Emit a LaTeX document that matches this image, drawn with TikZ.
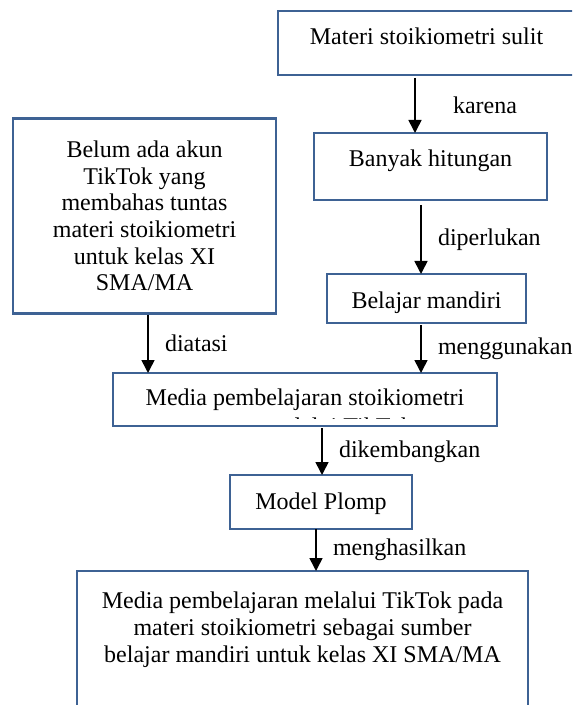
\documentclass[tikz,border=0pt]{standalone}
\usepackage{fontspec}
\setmainfont{Liberation Serif}
\usetikzlibrary{arrows.meta}
\definecolor{boxColor}{RGB}{62,98,148}
\begin{document}
\begin{tikzpicture}[x=0.5pt,y=-0.5pt,
  box/.style={draw=boxColor,line width=1.25pt,inner sep=0pt,outer sep=0pt,font=\fontsize{12}{13.35}\selectfont},
  txt/.style={inner sep=0pt,outer sep=0pt,align=center,font=\fontsize{12}{13.35}\selectfont},
  lbl/.style={inner sep=0pt,outer sep=0pt,right=8.5pt,font=\fontsize{12}{13.35}\selectfont},
  arr/.style={line width=0.8pt,-{Triangle[length=6.5pt,width=6.5pt]}}]
\clip (0,0) rectangle (572,705);

\node[box,minimum width=148.5pt,minimum height=32pt,text height=8pt,text depth=6pt] (sulit) at (426.5,43) {Materi stoikiometri sulit};
\node[box,minimum width=116.5pt,minimum height=33.5pt,text height=8pt,text depth=7.5pt] (banyak) at (430.5,166.5) {Banyak hitungan};
\node[box,minimum width=99.5pt,minimum height=24.5pt,text height=10pt,text depth=0.5pt] (mandiri) at (426.5,298.5) {Belajar mandiri};
\node[box,align=center,minimum width=131.5pt,minimum height=97.5pt] (belum) at (144.5,216) {Belum ada akun\\TikTok yang\\membahas tuntas\\materi stoikiometri\\untuk kelas XI\\SMA/MA};
\node[box,minimum width=192pt,minimum height=26.5pt,text height=8pt,text depth=2.5pt] (media) at (305,399.5) {Media pembelajaran stoikiometri};
\begin{scope}
\clip (media.north west) rectangle ([yshift=4pt]media.south east);
\node[txt,anchor=base] (mediatxt) at (339,434) {melalui TikTok};
\end{scope}
\node[box,minimum width=91pt,minimum height=27pt,text height=9pt,text depth=2pt] (plomp) at (321,502) {Model Plomp};
\node[box,anchor=north,minimum width=225.5pt,minimum height=90pt] (hasil) at (302.5,571) {};
\node[txt,anchor=north] (hasiltxt) at (302.5,592) {Media pembelajaran melalui TikTok pada\\materi stoikiometri sebagai sumber\\belajar mandiri untuk kelas XI SMA/MA};

\draw[arr] ([xshift=-5.75pt,yshift=-1.5pt]sulit.south) -- node[lbl,right=10.5pt] {karena} ([xshift=-7.75pt]banyak.north);
\draw[arr] ([xshift=-4.75pt,yshift=-2.5pt]banyak.south) -- node[lbl] {diperlukan} ([xshift=-2.75pt]mandiri.north);
\draw[arr] ([xshift=-2.75pt,yshift=-1pt]mandiri.south) -- node[lbl] {menggunakan} ([xshift=58pt]media.north);
\draw[arr] ([xshift=1.75pt,yshift=-0.5pt]belum.south) -- node[lbl] {diatasi} ([xshift=-78.5pt]media.north);
\draw[arr] ([xshift=8.5pt,yshift=-1pt]media.south) -- node[lbl] {dikembangkan} ([xshift=0.5pt]plomp.north);
\draw[arr] ([xshift=-2.5pt]plomp.south) -- node[lbl] {menghasilkan} ([xshift=6.75pt]hasil.north);
\end{tikzpicture}
\end{document}
